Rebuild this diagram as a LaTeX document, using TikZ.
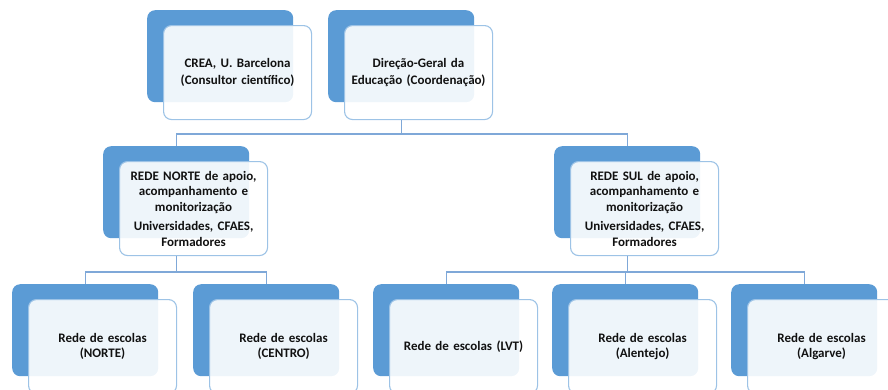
\documentclass[tikz,border=0pt]{standalone}
\usepackage{fontspec}
\setmainfont{Carlito}
\definecolor{backblue}{HTML}{5B9BD5}
\definecolor{frontline}{HTML}{9DC3E6}
\definecolor{connblue}{HTML}{7FA8D8}
\definecolor{txt}{HTML}{111111}
\begin{document}
\begin{tikzpicture}[x=1pt,y=-1pt,
  backbox/.style={anchor=north west, minimum width=146pt, minimum height=92pt, inner sep=0pt,
    fill=backblue, rounded corners=8pt},
  frontbox/.style={anchor=north west, minimum width=148pt, minimum height=94pt, inner sep=2pt,
    fill=white, fill opacity=0.9, text opacity=1, draw=frontline, line width=1.1pt,
    rounded corners=8pt, align=center, text width=140pt, text=txt,
    font=\fontsize{13}{15.5}\selectfont\bfseries},
  topfront/.style={frontbox, font=\fontsize{13}{17}\selectfont\bfseries},
  conn/.style={draw=connblue, line width=1.4pt}]
\useasboundingbox (0,0) rectangle (888,389);
\clip (0,0) rectangle (888,389);
% top row
\node[backbox] (creab) at (147,10) {};
\node[topfront] (creaf) at (163,25) {CREA, U. Barcelona\\(Consultor científico)};
\node[backbox] (dgeb) at (328,10) {};
\node[topfront] (dgef) at (344,25) {Direção-Geral da\\Educação (Coordenação)};
% middle row
\node[backbox] (norteb) at (103,146) {};
\node[backbox] (sulb) at (554,146) {};
% connectors top
\draw[conn] (dgeb |- dgef.south) -- ++(0,14) -| (norteb.north);
\draw[conn] (dgeb |- dgef.south) -- ++(0,14) -| (sulb.north);
\node[frontbox] (nortef) at (119,161) {REDE NORTE de apoio,\\acompanhamento e\\monitorização\\[4pt]Universidades, CFAES,\\Formadores};
\node[frontbox] (sulf) at (570,161) {REDE SUL de apoio,\\acompanhamento e\\monitorização\\[4pt]Universidades, CFAES,\\Formadores};
% bottom row
\node[backbox] (b1) at (12,284) {};
\node[backbox] (b2) at (193,284) {};
\node[backbox] (b3) at (373,284) {};
\node[backbox] (b4) at (552,284) {};
\node[backbox] (b5) at (731,284) {};
\draw[conn] (norteb |- nortef.south) -- ++(0,16) -| (b1.north);
\draw[conn] (norteb |- nortef.south) -- ++(0,16) -| (b2.north);
\draw[conn] (sulb |- sulf.south) -- ++(0,16) -| (b3.north);
\draw[conn] (sulb |- sulf.south) -- ++(0,16) -| (b4.north);
\draw[conn] (sulb |- sulf.south) -- ++(0,16) -| (b5.north);
\node[frontbox] (f1) at (28,299) {Rede de escolas\\(NORTE)};
\node[frontbox] (f2) at (209,299) {Rede de escolas\\(CENTRO)};
\node[frontbox] (f3) at (389,299) {Rede de escolas (LVT)};
\node[frontbox] (f4) at (568,299) {Rede de escolas\\(Alentejo)};
\node[frontbox] (f5) at (747,299) {Rede de escolas\\(Algarve)};
\end{tikzpicture}
\end{document}
